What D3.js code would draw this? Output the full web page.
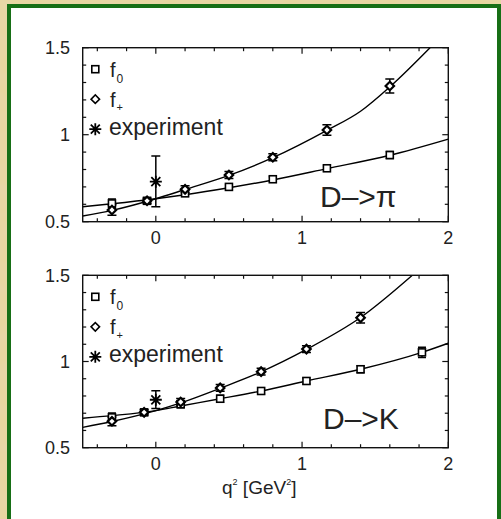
<!DOCTYPE html>
<html lang="en">
<head>
<meta charset="UTF-8">
<title>D to pi and D to K form factors</title>
<style>
  body { margin: 0; background: #e4d29a; }
  svg text { font-family: "Liberation Sans", Arial, Helvetica, sans-serif; fill: #222; }
  .frame { fill: none; stroke: #111; stroke-width: 1.4; }
  .tick { stroke: #111; stroke-width: 1.2; }
  .fit { fill: none; stroke: #000; stroke-width: 1.4; }
  .err { stroke: #000; stroke-width: 1.5; fill: none; }
  .mark { fill: #fff; stroke: #000; stroke-width: 1.6; }
  .dia { fill: #fff; stroke: #000; stroke-width: 2.2; }
</style>
</head>
<body>
<svg id="chart" width="501" height="519"></svg>
<script src="https://d3js.org/d3.v7.min.js"></script>
<script>
// ---- values ----
// D -> pi
const piQ2 = [-0.3, -0.06, 0.2, 0.5, 0.8, 1.17, 1.6];
const piFplus = [0.567, 0.62, 0.686, 0.768, 0.87, 1.027, 1.28];
const piFplusErr = [0.03, 0.015, 0.02, 0.02, 0.02, 0.03, 0.04];
const piFzero = [0.605, 0.62, 0.663, 0.70, 0.744, 0.807, 0.883];
const piFzeroErr = [0.025, 0.012, 0.015, 0.012, 0.015, 0.015, 0.02];
const piExp = { q2: 0, val: 0.73, lo: 0.586, hi: 0.878 };
// fitted curves, points
const piFitPlusQ2 = [-0.5, -0.3, 0, 0.2, 0.5, 0.8, 1.17, 1.4, 1.6, 1.875];
const piFitPlus = [0.533, 0.565, 0.632, 0.685, 0.766, 0.868, 1.025, 1.135, 1.275, 1.5];
const piFitZeroQ2 = [-0.5, -0.3, 0, 0.2, 0.5, 0.8, 1.17, 1.6, 2.0];
const piFitZero = [0.586, 0.603, 0.632, 0.655, 0.695, 0.74, 0.805, 0.882, 0.975];

// D -> K
const kQ2 = [-0.3, -0.08, 0.17, 0.44, 0.72, 1.03, 1.4];
const kFplus = [0.653, 0.705, 0.765, 0.847, 0.941, 1.072, 1.254];
const kFplusErr = [0.025, 0.015, 0.02, 0.02, 0.02, 0.02, 0.03];
const kQ2zero = [-0.3, -0.08, 0.17, 0.44, 0.72, 1.03, 1.4, 1.82];
const kFzero = [0.676, 0.705, 0.752, 0.784, 0.829, 0.887, 0.955, 1.053];
const kFzeroErr = [0.025, 0.012, 0.02, 0.02, 0.018, 0.018, 0.02, 0.03];
const kExp = { q2: 0, val: 0.778, lo: 0.728, hi: 0.83 };
const kFitPlusQ2 = [-0.5, -0.3, 0, 0.17, 0.44, 0.72, 1.03, 1.4, 1.754];
const kFitPlus = [0.618, 0.652, 0.715, 0.76, 0.845, 0.94, 1.07, 1.255, 1.5];
const kFitZeroQ2 = [-0.5, -0.3, 0, 0.17, 0.44, 0.72, 1.03, 1.4, 1.82, 2.0];
const kFitZero = [0.671, 0.686, 0.715, 0.742, 0.784, 0.829, 0.887, 0.955, 1.053, 1.106];

// axes
const xDomain = [-0.5, 2];
const yDomain = [0.5, 1.5];
const xLabels = [0, 1, 2];
const yLabels = [0.5, 1, 1.5];
const xMinorStep = 0.2;
const yMinorStep = 0.1;

const svg = d3.select('#chart');

// page background with a parchment-like texture
const defs = svg.append('defs');
const tex = defs.append('filter').attr('id', 'paper').attr('x', 0).attr('y', 0).attr('width', '100%').attr('height', '100%');
tex.append('feTurbulence').attr('type', 'fractalNoise').attr('baseFrequency', 0.06).attr('numOctaves', 3).attr('seed', 4).attr('result', 'noise');
tex.append('feColorMatrix').attr('in', 'noise').attr('type', 'matrix')
  .attr('values', '0 0 0 0 0.80  0 0 0 0 0.68  0 0 0 0 0.42  0 0 0 -1.1 0.75').attr('result', 'spots');
tex.append('feFlood').attr('flood-color', '#e8d7a0').attr('result', 'base');
tex.append('feComposite').attr('in', 'spots').attr('in2', 'base').attr('operator', 'over');
svg.append('rect').attr('width', 501).attr('height', 519).attr('fill', '#e4d29a').attr('filter', 'url(#paper)');

// green frame + white card
svg.append('rect')
  .attr('x', 9).attr('y', 6).attr('width', 490).attr('height', 540)
  .attr('fill', '#fff').attr('stroke', '#176f16').attr('stroke-width', 4);

const left = 82.7, right = 448.3;
const x = d3.scaleLinear().domain(xDomain).range([left, right]);

function star(g, cx, cy, r) {
  const p = d3.path();
  p.moveTo(cx - r, cy); p.lineTo(cx + r, cy);
  p.moveTo(cx, cy - r); p.lineTo(cx, cy + r);
  const d = r * 0.75;
  p.moveTo(cx - d, cy - d); p.lineTo(cx + d, cy + d);
  p.moveTo(cx - d, cy + d); p.lineTo(cx + d, cy - d);
  g.append('path').attr('d', p.toString()).attr('stroke', '#000').attr('stroke-width', 1.8).attr('fill', 'none');
}

function panel(top, bottom, d) {
  const y = d3.scaleLinear().domain(yDomain).range([bottom, top]);
  const g = svg.append('g');
  const clipId = 'clip' + Math.round(top);
  g.append('clipPath').attr('id', clipId)
    .append('rect').attr('x', left).attr('y', top).attr('width', right - left).attr('height', bottom - top);

  // ticks on all four sides
  const xt = d3.range(-0.4, 2.001, xMinorStep).map(v => +v.toFixed(2));
  xt.forEach(v => {
    const len = xLabels.includes(v) ? 6 : 3.5;
    g.append('line').attr('class', 'tick').attr('x1', x(v)).attr('x2', x(v)).attr('y1', bottom).attr('y2', bottom - len);
    g.append('line').attr('class', 'tick').attr('x1', x(v)).attr('x2', x(v)).attr('y1', top).attr('y2', top + len);
  });
  const yt = d3.range(0.5, 1.501, yMinorStep).map(v => +v.toFixed(2));
  yt.forEach(v => {
    const len = yLabels.includes(v) ? 6 : 3.5;
    g.append('line').attr('class', 'tick').attr('y1', y(v)).attr('y2', y(v)).attr('x1', left).attr('x2', left + len);
    g.append('line').attr('class', 'tick').attr('y1', y(v)).attr('y2', y(v)).attr('x1', right).attr('x2', right - len);
  });

  g.selectAll('.ylab').data(yLabels).enter().append('text')
    .attr('x', 70).attr('y', v => y(v) + 6.5)
    .attr('text-anchor', 'end').attr('font-size', 18)
    .text(v => v);
  g.selectAll('.xlab').data(xLabels).enter().append('text')
    .attr('x', v => x(v)).attr('y', bottom + 22)
    .attr('text-anchor', 'middle').attr('font-size', 18)
    .text(v => v);

  // fitted lines
  const line = (xs, ys) => d3.line().x((v, i) => x(xs[i])).y((v, i) => y(ys[i])).curve(d3.curveMonotoneX)(ys);
  const fits = g.append('g').attr('clip-path', `url(#${clipId})`);
  fits.append('path').attr('class', 'fit').attr('d', line(d.fitZeroQ2, d.fitZero));
  fits.append('path').attr('class', 'fit').attr('d', line(d.fitPlusQ2, d.fitPlus));

  // error bars
  const errbar = (q, lo, hi, cap) => {
    const p = d3.path();
    p.moveTo(x(q), y(lo)); p.lineTo(x(q), y(hi));
    p.moveTo(x(q) - cap, y(lo)); p.lineTo(x(q) + cap, y(lo));
    p.moveTo(x(q) - cap, y(hi)); p.lineTo(x(q) + cap, y(hi));
    g.append('path').attr('class', 'err').attr('d', p.toString());
  };
  d.zeroQ2.forEach((q, i) => errbar(q, d.fZero[i] - d.fZeroErr[i], d.fZero[i] + d.fZeroErr[i], 4));
  d.plusQ2.forEach((q, i) => errbar(q, d.fPlus[i] - d.fPlusErr[i], d.fPlus[i] + d.fPlusErr[i], 4.5));

  // f0 squares
  g.selectAll('.sq').data(d.zeroQ2).enter().append('rect').attr('class', 'mark')
    .attr('x', (q) => x(q) - 3.5).attr('y', (q, i) => y(d.fZero[i]) - 3.5)
    .attr('width', 7).attr('height', 7);
  // f+ diamonds
  g.selectAll('.dm').data(d.plusQ2).enter().append('path').attr('class', 'dia')
    .attr('transform', (q, i) => `translate(${x(q)},${y(d.fPlus[i])}) rotate(45)`)
    .attr('d', 'M-3,-3H3V3H-3Z');

  // experiment
  errbar(d.exp.q2, d.exp.lo, d.exp.hi, 4.5);
  star(g, x(d.exp.q2), y(d.exp.val), 6);

  // frame
  g.append('rect').attr('class', 'frame')
    .attr('x', left).attr('y', top).attr('width', right - left).attr('height', bottom - top);

  // legend
  const lx = 95.3;
  g.append('rect').attr('class', 'mark').attr('x', lx - 3.5).attr('y', top + 21.5 - 3.5).attr('width', 7).attr('height', 7).attr('stroke-width', 1.3);
  g.append('path').attr('class', 'mark').attr('transform', `translate(${lx},${top + 51.5}) rotate(45)`).attr('d', 'M-3,-3H3V3H-3Z').attr('stroke-width', 1.8);
  star(g, lx, top + 81.5, 6);
  g.append('text').attr('x', 110).attr('y', top + 29).attr('font-size', 20).text('f');
  g.append('text').attr('x', 116.5).attr('y', top + 35).attr('font-size', 12).text('0');
  g.append('text').attr('x', 110).attr('y', top + 59).attr('font-size', 20).text('f');
  g.append('text').attr('x', 116.5).attr('y', top + 63.5).attr('font-size', 11).text('+');
  g.append('text').attr('x', 109).attr('y', top + 87).attr('font-size', 23).text('experiment');

  g.append('text').attr('x', d.labelX).attr('y', d.labelY).attr('font-size', 30).text(d.label);
  return y;
}

panel(47.7, 221.7, {
  plusQ2: piQ2, fPlus: piFplus, fPlusErr: piFplusErr,
  zeroQ2: piQ2, fZero: piFzero, fZeroErr: piFzeroErr,
  exp: piExp,
  fitPlusQ2: piFitPlusQ2, fitPlus: piFitPlus,
  fitZeroQ2: piFitZeroQ2, fitZero: piFitZero,
  label: 'D\u2013>\u03c0', labelX: 320, labelY: 206.5
});

panel(275.3, 447.7, {
  plusQ2: kQ2, fPlus: kFplus, fPlusErr: kFplusErr,
  zeroQ2: kQ2zero, fZero: kFzero, fZeroErr: kFzeroErr,
  exp: kExp,
  fitPlusQ2: kFitPlusQ2, fitPlus: kFitPlus,
  fitZeroQ2: kFitZeroQ2, fitZero: kFitZero,
  label: 'D\u2013>K', labelX: 323, labelY: 429
});

// x axis title
const xt = svg.append('text').attr('x', 222).attr('y', 494).attr('font-size', 19);
xt.append('tspan').text('q');
xt.append('tspan').attr('font-size', 9).attr('dy', -9).text('2');
xt.append('tspan').attr('dy', 9).text(' [GeV');
xt.append('tspan').attr('font-size', 9).attr('dy', -9).text('2');
xt.append('tspan').attr('dy', 9).text(']');
</script>
</body>
</html>
